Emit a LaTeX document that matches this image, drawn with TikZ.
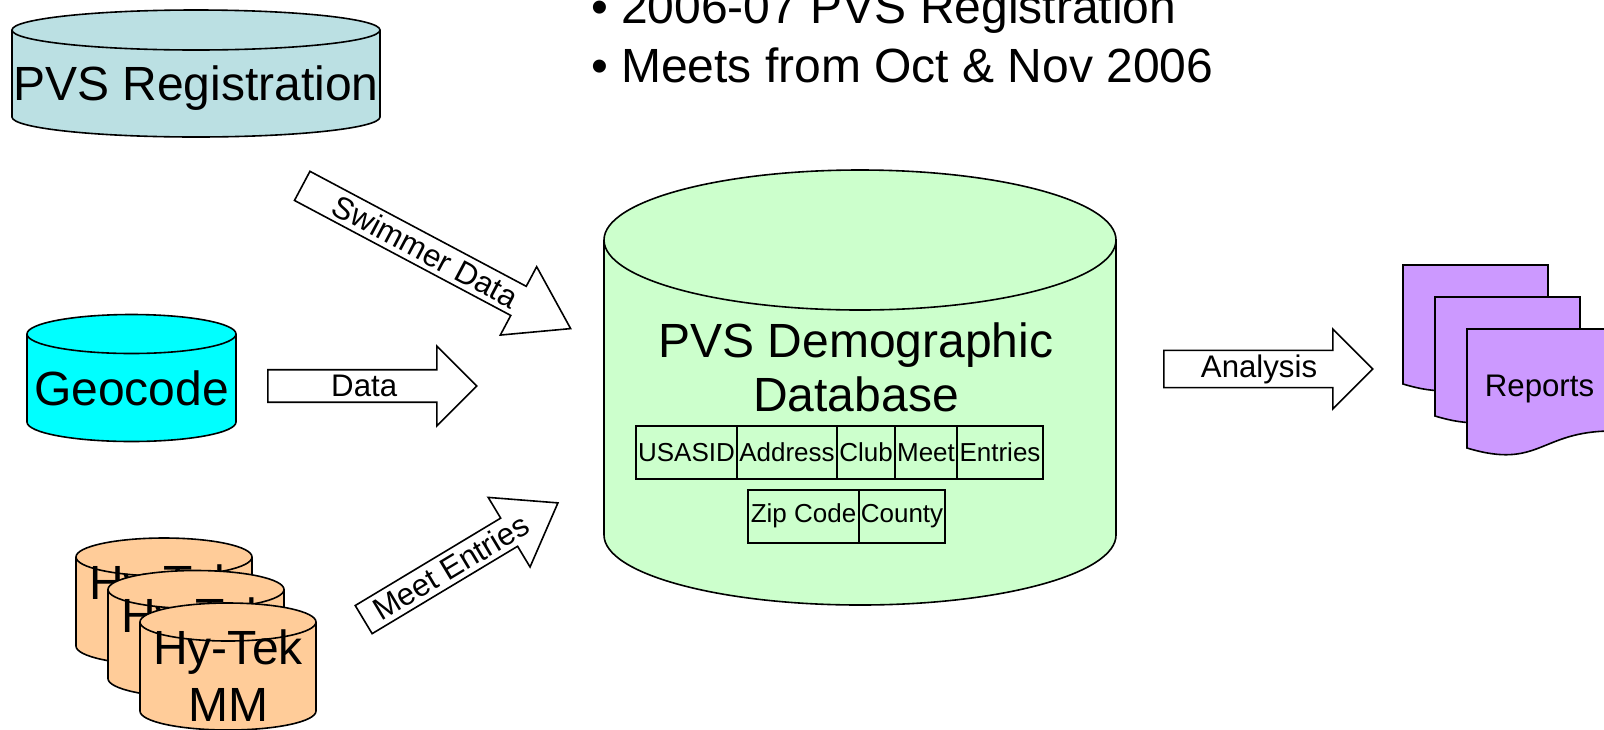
\documentclass[tikz,border=0pt]{standalone}
\usepackage{fontspec}
\setmainfont{Liberation Sans}
\usetikzlibrary{shapes.arrows, positioning}
\definecolor{regblue}{RGB}{187,224,227}
\definecolor{geocyan}{RGB}{0,255,255}
\definecolor{dbgreen}{RGB}{204,255,204}
\definecolor{hyorange}{RGB}{255,204,153}
\definecolor{reppurple}{RGB}{204,153,255}
\tikzset{
every node/.style={font=\fontsize{24}{27}\selectfont}, % slide text size
drum/.style={draw, line width=0.8pt}, % database drums
flow/.style={single arrow, draw, line width=0.8pt, fill=white, inner sep=1pt, anchor=tail, single arrow head indent=0pt, font=\fontsize{15.6}{18}\selectfont}, % fat arrows
field/.style={draw, line width=1pt, inner sep=0pt, outer sep=0pt, minimum height=26.5pt, font=\fontsize{13}{15}\selectfont}, % table fields
report/.style={draw, line width=0.8pt, fill=reppurple}, % report pages
}
% drum: centre x, lid centre y, x radius, y radius, body height, colour
\newcommand{\drum}[6]{%
  \filldraw[drum, fill=#6] (#1-#3,#2) -- (#1-#3,#2+#5) arc (180:0:#3 and #4) -- (#1+#3,#2) arc (0:-180:#3 and #4) -- cycle;
  \draw[drum] (#1-#3,#2) arc (180:0:#3 and #4);
}

\begin{document}
\begin{tikzpicture}[x=0.5pt, y=-0.5pt]
\useasboundingbox (0,0) rectangle (1604,729);

% sources
\drum{196}{30}{184}{20}{87}{regblue}
\node[anchor=base] (reg) at (196,100) {PVS Registration};
\drum{131.5}{334}{104.5}{19.5}{88}{geocyan}
\node[anchor=base] (geo) at (131.5,405) {Geocode};
\foreach \i/\x/\y in {1/164/557, 2/196/589.5, 3/228/622} {
  \drum{\x}{\y}{88}{19}{89}{hyorange}
  \node[align=center, font=\fontsize{24}{28.5}\selectfont] (hytek\i) at (\x,\y+54) {Hy-Tek\\MM};
}

% database
\drum{860}{240}{256}{70}{295}{dbgreen}
\node[align=center] (db) at (856,367.5) {PVS Demographic\\Database};
\node[field, anchor=west, minimum width=50.5pt] (usasid) at (636,452.5) {USASID};
\node[field, right=0pt of usasid, minimum width=50pt] (address) {Address};
\node[field, right=0pt of address, minimum width=29pt] (club) {Club};
\node[field, right=0pt of club, minimum width=31pt] (meet) {Meet};
\node[field, right=0pt of meet, minimum width=43pt] (entries) {Entries};
\node[field, anchor=west, minimum width=55.5pt] (zip) at (748,516) {Zip Code};
\node[field, right=0pt of zip, minimum width=43pt] (county) {County};

% reports
\foreach \i in {0,1,2}
  \draw[report, shift={(1403+32*\i,265+32*\i)}] (0,0) -- (145,0) -- (145,102) .. controls (72.5,102) and (72.5,141) .. (0,119) -- cycle;
\node[font=\fontsize{15.6}{18}\selectfont] (rep) at (1539.5,389) {Reports};

% arrows
\node[flow, rotate=-28, minimum height=152pt, minimum width=38.7pt, single arrow head extend=9.6pt, single arrow tip angle=66.5] (swimarr) at (301.5,185.5) {Swimmer Data};
\node[flow, minimum height=104.5pt, minimum width=40pt, single arrow head extend=10pt] (dataarr) at (267,386) {Data};
\node[flow, rotate=31, minimum height=113.3pt, minimum width=40.6pt, single arrow head extend=10.5pt, single arrow tip angle=71] (meetarr) at (363,620) {Meet Entries};
\node[flow, minimum height=104.5pt, minimum width=40pt, single arrow head extend=10pt] (anaarr) at (1163,369) {Analysis};

% bullets
\node[anchor=base west] (bul1) at (584,23) {• 2006-07 PVS Registration};
\node[anchor=base west] (bul2) at (584,82) {• Meets from Oct \& Nov 2006};
\end{tikzpicture}
\end{document}
